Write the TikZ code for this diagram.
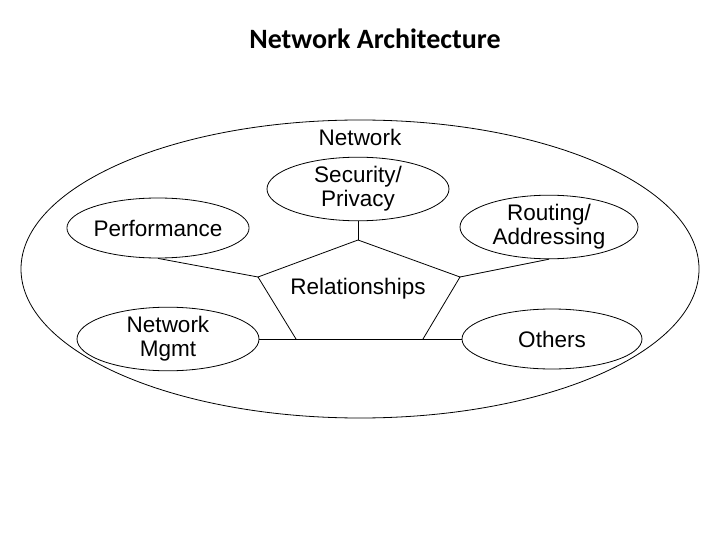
\documentclass[tikz,border=0pt]{standalone}
\usepackage{fontspec}
\setmainfont{Liberation Sans}
\newfontfamily\titlefont{Carlito}
\usetikzlibrary{shapes.geometric}
\begin{document}
\begin{tikzpicture}[x=1pt,y=-1pt,line width=.8pt,
  part/.style={draw,ellipse,minimum width=182pt,minimum height=60pt,inner sep=0pt,align=center,font=\fontsize{22.5}{24}\selectfont},
  lbl/.style={font=\fontsize{22.5}{24}\selectfont}]
\useasboundingbox (0,0) rectangle (720,540);
\node[font=\titlefont\bfseries\fontsize{28}{32}\selectfont] (title) at (375,39) {Network Architecture};
% outer network
\node[draw,ellipse,minimum width=678pt,minimum height=298pt] (net) at (360,269) {};
\node[lbl] (netlbl) at (360,137) {Network};
% the five parts
\node[part] (sec) at (358,189) {Security/\\Privacy};
\node[part] (perf) at (158,228) {Performance};
\node[part,minimum width=178pt,minimum height=62pt] (rout) at (549,227) {Routing/\\Addressing};
\node[part,minimum height=62pt] (mgmt) at (168,339) {Network\\Mgmt};
\node[part,minimum width=180pt] (oth) at (552,339) {Others};
% relationships pentagon
\coordinate (ptop) at (358,240);
\coordinate (pleft) at (258,277);
\coordinate (pright) at (460,277);
\coordinate (pbl) at (296,339);
\coordinate (pbr) at (423,339);
\node[lbl] (rel) at (358,289) {Relationships};
\draw (pbl) -- (pleft) -- (ptop) -- (pright) -- (pbr);
\draw (mgmt.east) -- (oth.west);
\draw (sec.south) -- (ptop);
\draw (perf.south) -- (pleft);
\draw (rout.south) -- (pright);
\end{tikzpicture}
\end{document}
